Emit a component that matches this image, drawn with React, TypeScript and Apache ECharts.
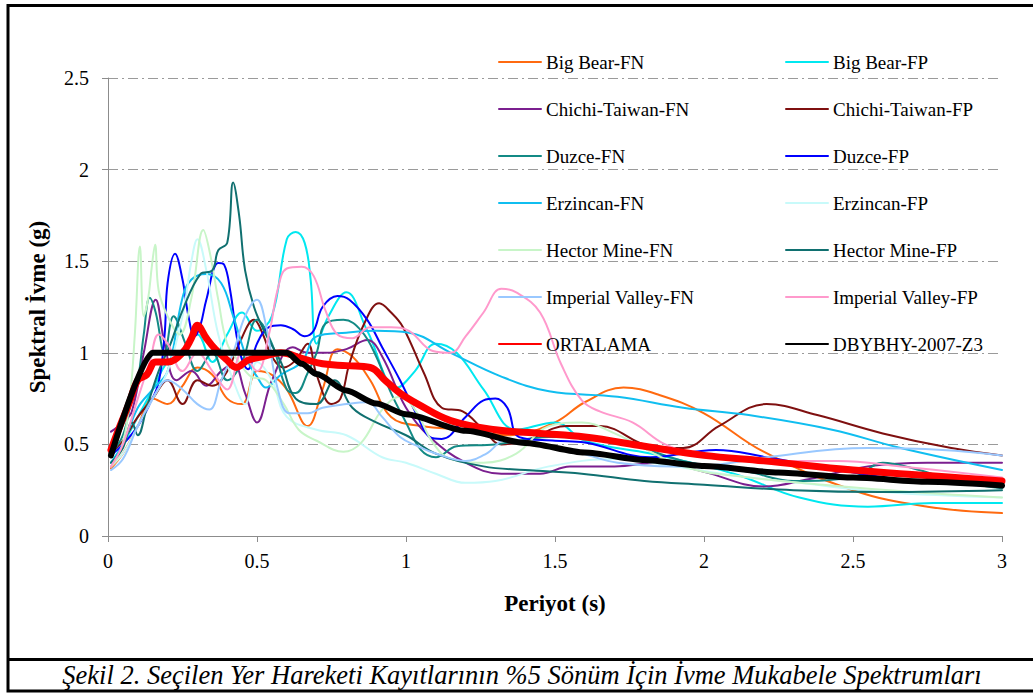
import React, { useEffect, useRef } from "react";
import * as echarts from "echarts";

const FONT = "Liberation Serif";

const bigBearFN = [[0.01,0.37],[0.05,0.45],[0.1,0.6],[0.15,0.75],[0.2,0.72],[0.25,0.82],[0.3,0.92],[0.35,0.88],[0.4,0.75],[0.45,0.72],[0.5,0.9],[0.55,0.88],[0.6,0.8],[0.67,0.6],[0.72,0.8],[0.77,1.02],[0.82,0.98],[0.88,0.85],[0.95,0.65],[1.05,0.6],[1.2,0.58],[1.35,0.55],[1.5,0.62],[1.6,0.73],[1.73,0.81],[1.85,0.77],[2.0,0.67],[2.2,0.46],[2.5,0.25],[2.75,0.16],[3.0,0.125]];
const bigBearFP = [[0.01,0.4],[0.05,0.5],[0.1,0.65],[0.15,0.8],[0.2,0.95],[0.25,1.0],[0.3,1.1],[0.35,0.95],[0.4,1.1],[0.45,1.22],[0.5,1.12],[0.55,1.2],[0.6,1.62],[0.63,1.66],[0.66,1.6],[0.68,1.4],[0.7,1.05],[0.74,1.2],[0.8,1.33],[0.87,1.12],[0.97,0.81],[1.03,0.9],[1.1,1.05],[1.17,1.0],[1.26,0.8],[1.37,0.58],[1.5,0.62],[1.6,0.52],[1.82,0.45],[2.1,0.34],[2.32,0.21],[2.55,0.16],[2.77,0.18],[3.0,0.18]];
const chichiFN = [[0.01,0.57],[0.05,0.62],[0.08,0.68],[0.12,1.0],[0.16,1.29],[0.19,1.05],[0.23,0.85],[0.28,0.9],[0.33,0.82],[0.38,0.9],[0.42,0.94],[0.46,0.78],[0.5,0.62],[0.55,0.85],[0.62,1.03],[0.67,1.0],[0.73,1.0],[0.8,1.02],[0.87,1.07],[0.92,0.98],[1.0,0.7],[1.08,0.54],[1.2,0.4],[1.32,0.34],[1.45,0.34],[1.55,0.38],[1.7,0.38],[1.85,0.4],[2.0,0.35],[2.2,0.27],[2.35,0.31],[2.55,0.38],[2.75,0.4],[3.0,0.4]];
const chichiFP = [[0.01,0.45],[0.05,0.52],[0.1,0.65],[0.15,0.75],[0.2,0.85],[0.25,0.72],[0.3,0.85],[0.35,0.82],[0.4,0.9],[0.44,1.05],[0.49,1.18],[0.52,1.1],[0.55,0.98],[0.59,0.92],[0.63,0.96],[0.67,1.05],[0.7,0.88],[0.75,0.72],[0.78,0.75],[0.81,0.94],[0.86,1.16],[0.91,1.27],[0.95,1.22],[0.99,1.14],[1.06,0.89],[1.12,0.7],[1.19,0.68],[1.26,0.58],[1.32,0.5],[1.4,0.52],[1.54,0.6],[1.65,0.6],[1.82,0.49],[1.93,0.48],[2.05,0.6],[2.21,0.72],[2.38,0.66],[2.6,0.56],[2.83,0.48],[3.0,0.44]];
const duzceFN = [[0.01,0.45],[0.05,0.55],[0.08,0.75],[0.1,0.85],[0.12,1.1],[0.14,1.3],[0.16,1.22],[0.19,1.0],[0.22,1.2],[0.26,1.05],[0.3,0.9],[0.35,1.0],[0.4,0.85],[0.45,0.95],[0.5,1.18],[0.55,1.05],[0.6,0.8],[0.63,0.78],[0.67,0.89],[0.7,1.0],[0.73,1.16],[0.79,1.18],[0.85,1.12],[0.9,0.98],[0.95,0.78],[1.0,0.62],[1.05,0.47],[1.1,0.43],[1.17,0.49],[1.3,0.5],[1.48,0.54],[1.7,0.52],[1.93,0.41],[2.15,0.35],[2.3,0.3],[2.5,0.32],[2.6,0.4],[2.7,0.37],[2.85,0.3],[3.0,0.26]];
const duzceFP = [[0.01,0.44],[0.05,0.5],[0.1,0.6],[0.14,0.72],[0.17,0.84],[0.19,1.1],[0.2,1.38],[0.225,1.54],[0.25,1.4],[0.27,1.2],[0.29,1.09],[0.31,1.15],[0.33,1.29],[0.37,1.49],[0.39,1.48],[0.41,1.34],[0.44,1.02],[0.47,0.91],[0.5,1.05],[0.54,1.14],[0.58,1.15],[0.62,1.13],[0.66,1.09],[0.69,1.12],[0.72,1.25],[0.77,1.31],[0.81,1.29],[0.87,1.18],[0.92,1.03],[0.98,0.85],[1.04,0.65],[1.08,0.54],[1.12,0.53],[1.2,0.65],[1.26,0.74],[1.3,0.75],[1.34,0.7],[1.38,0.54],[1.5,0.52],[1.6,0.51],[1.82,0.43],[2.04,0.47],[2.21,0.43],[2.45,0.36],[2.66,0.31],[3.0,0.27]];
const erzincanFN = [[0.01,0.4],[0.05,0.5],[0.1,0.7],[0.15,0.8],[0.2,0.9],[0.25,1.3],[0.28,1.4],[0.33,1.43],[0.38,1.38],[0.42,1.2],[0.47,0.95],[0.5,0.87],[0.53,0.81],[0.58,0.88],[0.65,0.95],[0.7,1.09],[0.8,1.11],[0.9,1.12],[1.01,1.11],[1.15,1.0],[1.32,0.87],[1.48,0.79],[1.71,0.76],[1.93,0.7],[2.15,0.66],[2.43,0.58],[2.66,0.48],[3.0,0.36]];
const erzincanFP = [[0.01,0.38],[0.05,0.45],[0.1,0.6],[0.15,0.75],[0.2,0.9],[0.25,1.2],[0.28,1.5],[0.3,1.62],[0.33,1.45],[0.37,1.1],[0.42,0.85],[0.46,0.72],[0.5,0.95],[0.55,0.85],[0.6,0.65],[0.7,0.58],[0.8,0.55],[0.92,0.43],[1.0,0.4],[1.1,0.34],[1.2,0.29],[1.3,0.3],[1.48,0.38],[1.7,0.42],[1.9,0.38],[2.1,0.33],[2.32,0.29],[2.6,0.24],[3.0,0.21]];
const hectorFN = [[0.01,0.38],[0.04,0.45],[0.07,0.7],[0.09,1.1],[0.107,1.58],[0.12,1.2],[0.135,1.3],[0.147,1.47],[0.158,1.59],[0.17,1.34],[0.2,1.2],[0.24,1.1],[0.28,1.3],[0.32,1.67],[0.34,1.56],[0.37,1.29],[0.4,1.05],[0.44,0.95],[0.48,0.87],[0.53,0.85],[0.59,0.72],[0.64,0.58],[0.7,0.52],[0.79,0.46],[0.85,0.51],[0.92,0.69],[0.98,0.76],[1.03,0.69],[1.09,0.51],[1.15,0.42],[1.26,0.4],[1.37,0.45],[1.48,0.6],[1.59,0.62],[1.7,0.56],[1.93,0.38],[2.15,0.32],[2.4,0.28],[2.7,0.24],[3.0,0.21]];
const hectorFP = [[0.01,0.4],[0.05,0.48],[0.08,0.62],[0.1,0.55],[0.13,0.7],[0.17,0.9],[0.21,1.05],[0.25,1.23],[0.31,1.43],[0.35,1.45],[0.37,1.56],[0.4,1.6],[0.42,1.93],[0.44,1.75],[0.46,1.45],[0.49,1.25],[0.53,1.1],[0.58,0.95],[0.63,0.75],[0.7,0.72],[0.76,0.85],[0.82,0.7],[0.9,0.62],[1.0,0.55],[1.1,0.45],[1.26,0.38],[1.4,0.36],[1.59,0.34],[1.8,0.3],[2.0,0.28],[2.3,0.25],[2.6,0.24],[3.0,0.25]];
const imperialFN = [[0.01,0.36],[0.05,0.42],[0.1,0.6],[0.15,0.75],[0.2,0.85],[0.25,0.8],[0.3,0.72],[0.34,0.69],[0.38,0.85],[0.42,1.0],[0.46,1.2],[0.5,1.29],[0.53,1.15],[0.57,0.8],[0.61,0.67],[0.67,0.67],[0.72,0.7],[0.8,0.72],[0.87,0.73],[0.92,0.65],[0.98,0.54],[1.04,0.49],[1.1,0.45],[1.2,0.41],[1.27,0.45],[1.34,0.53],[1.45,0.5],[1.59,0.45],[1.71,0.4],[1.9,0.38],[2.05,0.39],[2.21,0.43],[2.55,0.48],[2.8,0.47],[3.0,0.44]];
const imperialFP = [[0.01,0.38],[0.05,0.5],[0.1,0.75],[0.14,0.95],[0.17,1.1],[0.2,1.05],[0.25,0.9],[0.3,1.0],[0.35,0.9],[0.4,0.8],[0.45,1.0],[0.5,0.9],[0.54,1.1],[0.57,1.35],[0.6,1.46],[0.65,1.47],[0.69,1.42],[0.73,1.23],[0.77,1.1],[0.82,1.08],[0.88,1.14],[0.95,1.14],[1.01,1.12],[1.09,1.01],[1.15,1.0],[1.2,1.09],[1.26,1.22],[1.32,1.35],[1.37,1.33],[1.45,1.22],[1.52,0.94],[1.59,0.74],[1.65,0.68],[1.76,0.62],[1.87,0.5],[2.0,0.44],[2.21,0.41],[2.45,0.41],[2.66,0.38],[3.0,0.32]];
const ortalama = [[0.01,0.47],[0.04,0.6],[0.07,0.72],[0.1,0.85],[0.13,0.88],[0.16,0.95],[0.2,0.95],[0.25,1.0],[0.28,1.08],[0.3,1.15],[0.33,1.08],[0.36,1.02],[0.4,0.96],[0.43,0.92],[0.47,0.96],[0.52,0.98],[0.58,1.0],[0.65,0.97],[0.72,0.94],[0.8,0.93],[0.88,0.92],[0.93,0.85],[0.98,0.78],[1.04,0.72],[1.15,0.63],[1.3,0.58],[1.45,0.56],[1.6,0.54],[1.8,0.49],[2.0,0.44],[2.2,0.41],[2.5,0.36],[2.75,0.33],[3.0,0.3]];
const dbybhy = [[0.01,0.44],[0.15,1.0],[0.6,1.0],[0.65,0.94],[0.7,0.884],[0.8,0.794],[0.9,0.723],[1.0,0.665],[1.2,0.574],[1.4,0.508],[1.6,0.456],[1.8,0.415],[2.0,0.382],[2.25,0.347],[2.5,0.319],[2.75,0.296],[3.0,0.276]];

const seriesNames = ["Big Bear-FN","Big Bear-FP","Chichi-Taiwan-FN","Chichi-Taiwan-FP","Duzce-FN","Duzce-FP","Erzincan-FN","Erzincan-FP","Hector Mine-FN","Hector Mine-FP","Imperial Valley-FN","Imperial Valley-FP","ORTALAMA","DBYBHY-2007-Z3"];
const seriesData = [bigBearFN,bigBearFP,chichiFN,chichiFP,duzceFN,duzceFP,erzincanFN,erzincanFP,hectorFN,hectorFP,imperialFN,imperialFP,ortalama,dbybhy];
const seriesColors = ["#FF6A10","#00E8F0","#7B1F8F","#7F1010","#138A85","#0000FF","#10BEF0","#C8FAFA","#C8F5C8","#107070","#99C8FF","#FF99CC","#FF0000","#000000"];
const seriesWidths = [2,2,2,2,2,2,2,2,2,2,2,2,7,6];

const yTicks = [0, 0.5, 1, 1.5, 2, 2.5];
const caption = "Şekil 2. Seçilen Yer Hareketi Kayıtlarının %5 Sönüm İçin İvme Mukabele Spektrumları";

export default function App() {
  const ref = useRef<HTMLDivElement>(null);
  useEffect(() => {
    if (!ref.current) return;
    const chart = echarts.init(ref.current, null, { renderer: "svg" });
    const leftNames = seriesNames.filter((_, i) => i % 2 === 0);
    const rightNames = seriesNames.filter((_, i) => i % 2 === 1);
    const legendCommon = {
      orient: "vertical" as const,
      top: 52,
      padding: 0,
      itemWidth: 42,
      itemHeight: 14,
      itemGap: 27,
      itemStyle: { opacity: 0 },
      textStyle: { fontFamily: FONT, fontSize: 19, color: "#000", lineHeight: 20 },
      selectedMode: false,
    };
    chart.setOption({
      animation: false,
      backgroundColor: "#fff",
      grid: { left: 108, right: 31, top: 78, bottom: 157, containLabel: false },
      legend: [
        { ...legendCommon, left: 498, data: leftNames },
        { ...legendCommon, left: 785, data: rightNames },
      ],
      xAxis: {
        type: "value",
        min: 0,
        max: 3,
        interval: 0.5,
        name: "Periyot (s)",
        nameLocation: "middle",
        nameGap: 56,
        nameTextStyle: { fontFamily: FONT, fontSize: 23, fontWeight: "bold", color: "#000" },
        axisLine: { show: true, lineStyle: { color: "#8c8c8c", width: 1 } },
        axisTick: { show: true, length: 6, lineStyle: { color: "#8c8c8c" } },
        axisLabel: { fontFamily: FONT, fontSize: 20, color: "#000", margin: 15 },
        splitLine: { show: false },
      },
      yAxis: {
        type: "value",
        min: 0,
        max: 2.5,
        interval: 0.5,
        name: "Spektral İvme (g)",
        nameLocation: "middle",
        nameGap: 59,
        nameRotate: 90,
        nameTextStyle: { fontFamily: FONT, fontSize: 23, fontWeight: "bold", color: "#000" },
        axisLine: { show: true, lineStyle: { color: "#8c8c8c", width: 1 } },
        axisTick: { show: true, length: 6, lineStyle: { color: "#8c8c8c" } },
        axisLabel: {
          fontFamily: FONT, fontSize: 20, color: "#000", margin: 19,
          formatter: (v: number) => (yTicks.includes(v) ? String(v) : ""),
        },
        splitLine: { show: true, lineStyle: { color: "#9a9a9a", width: 1, type: [10, 4, 2, 4] } },
      },
      series: seriesNames.map((name, i) => ({
        name,
        type: "line",
        data: seriesData[i],
        showSymbol: false,
        symbol: "none",
        smooth: i === 13 ? 0.25 : 0.4,
        smoothMonotone: i === 13 ? "x" : undefined,
        color: seriesColors[i],
        lineStyle: { color: seriesColors[i], width: seriesWidths[i], cap: "round", join: "round" },
        z: i >= 12 ? 3 + i : 2,
      })),
      graphic: [
        {
          type: "rect",
          shape: { x: 8, y: 5.5, width: 1030, height: 685.5 },
          style: { fill: "none", stroke: "#000", lineWidth: 3 },
          silent: true,
          z: 100,
        },
        {
          type: "line",
          shape: { x1: 8, y1: 659.5, x2: 1040, y2: 659.5 },
          style: { stroke: "#000", lineWidth: 3 },
          silent: true,
          z: 100,
        },
        {
          type: "text",
          x: 522,
          y: 675,
          style: {
            text: caption,
            fontFamily: FONT,
            fontSize: 26.5,
            fontStyle: "italic",
            fill: "#000",
            align: "center",
            verticalAlign: "middle",
          },
          silent: true,
          z: 100,
        },
      ],
    });
    return () => chart.dispose();
  }, []);
  return (
    <div
      ref={ref}
      style={{ position: "absolute", left: 0, top: 0, width: 1033, height: 693, background: "#fff" }}
    />
  );
}
